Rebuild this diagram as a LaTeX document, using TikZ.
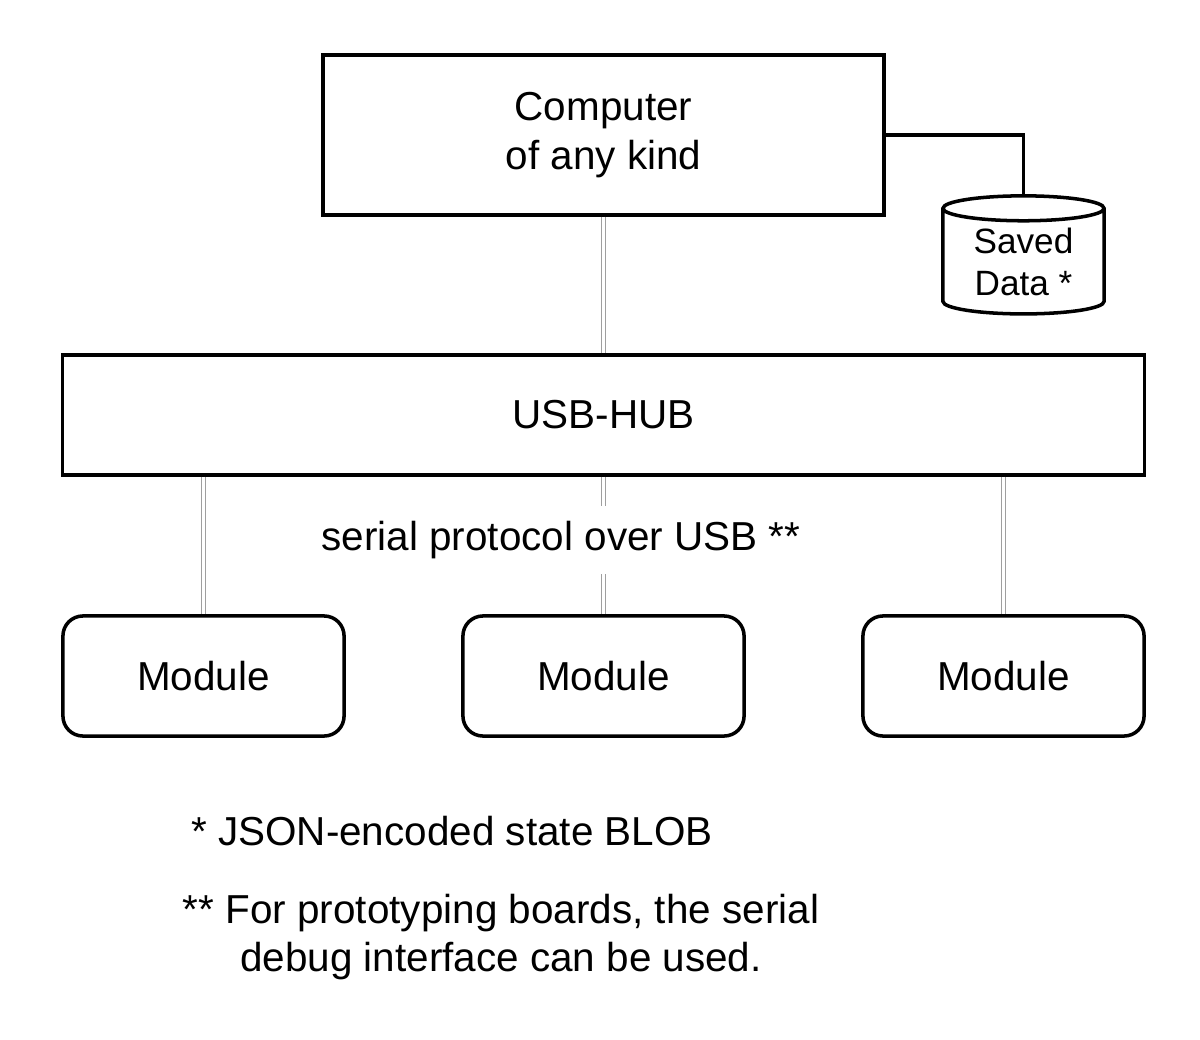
\documentclass[tikz,border=0pt]{standalone}
\usepackage{fontspec}
\setmainfont{Liberation Sans}
\usetikzlibrary{shapes.geometric}

\tikzset{
  box/.style={draw, line width=1pt, inner sep=0pt, align=center,
    font=\fontsize{11.5}{13.6}\selectfont},
  modbox/.style={box, rounded corners=0.2cm, minimum width=2.81cm, minimum height=1.2cm},
  usbline/.style={draw=gray!75, line width=0.45pt, double=white, double distance=0.6pt},
  note/.style={align=center, font=\fontsize{11.5}{13.4}\selectfont}
}

\begin{document}
\begin{tikzpicture}[x=0.01cm, y=-0.01cm]
\useasboundingbox (0,0) rectangle (1200,1040);
%%%%% Boxes %%%%%
\node[box, minimum width=5.61cm, minimum height=1.6cm, font=\fontsize{11.5}{13.9}\selectfont] (computer) at (603.5,135) {Computer\\of any kind};
\node[box, minimum width=10.81cm, minimum height=1.2cm] (hub) at (603.5,415) {USB-HUB};
\node[draw, line width=1pt, cylinder, shape border rotate=90, aspect=0.25,
  minimum width=1.61cm, minimum height=1.18cm, inner sep=0pt, align=center,
  font=\fontsize{10}{11.9}\selectfont] (data) at (1023.5,262) {Saved\\Data *};
\foreach \x/\n in {203.5/a,603.5/b,1003.5/c}{
  \node[modbox] (mod\n) at (\x,676) {Module};
}
%%%%% Connections %%%%%
\draw[line width=1pt] (computer.east) -| (data.north);
\draw[usbline] (computer) -- (hub);
\foreach \n in {a,b,c}{
  \draw[usbline] (hub.south -| mod\n) -- (mod\n.north);
}
\node[note, fill=white, inner sep=0.15cm] (proto) at (561,540) {serial protocol over USB **};
%%%%% Footnotes %%%%%
\node[note] (fn1) at (452,831) {* JSON-encoded state BLOB};
\node[note] (fn2) at (501,937) {** For prototyping boards, the serial\\debug interface can be used.};
\end{tikzpicture}
\end{document}
